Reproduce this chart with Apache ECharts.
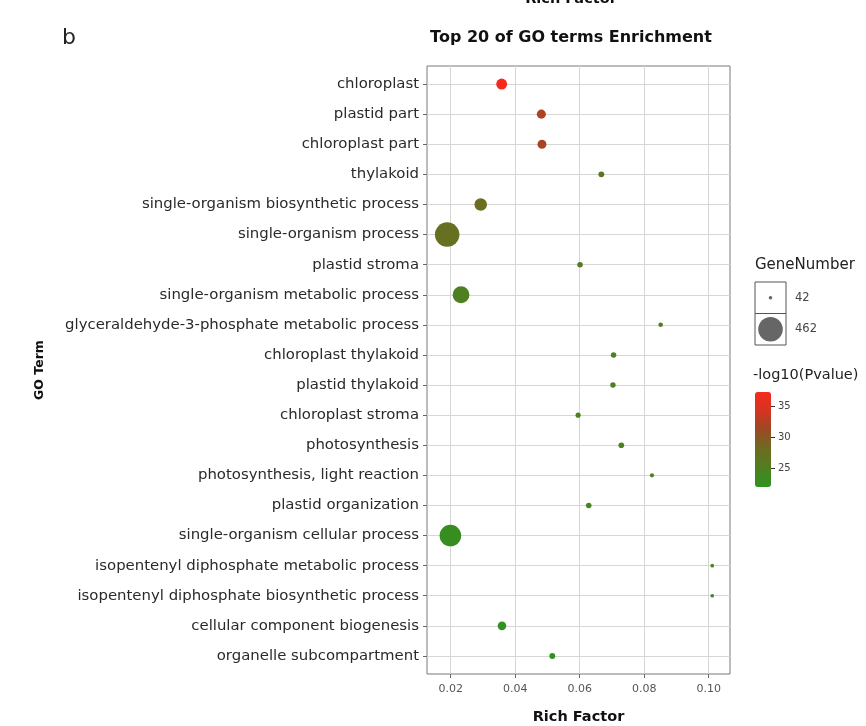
<!DOCTYPE html>
<html>
<head>
<meta charset="utf-8">
<script src="https://cdn.jsdelivr.net/npm/echarts@6/dist/echarts.min.js"></script>
<style>
  html, body { margin: 0; padding: 0; background: #ffffff; }
  #chart { width: 866px; height: 726px; }
</style>
</head>
<body>
<div id="chart"></div>
<script>
// GO enrichment: top 20 terms, plotted by rich factor
const terms = [
  'chloroplast',
  'plastid part',
  'chloroplast part',
  'thylakoid',
  'single-organism biosynthetic process',
  'single-organism process',
  'plastid stroma',
  'single-organism metabolic process',
  'glyceraldehyde-3-phosphate metabolic process',
  'chloroplast thylakoid',
  'plastid thylakoid',
  'chloroplast stroma',
  'photosynthesis',
  'photosynthesis, light reaction',
  'plastid organization',
  'single-organism cellular process',
  'isopentenyl diphosphate metabolic process',
  'isopentenyl diphosphate biosynthetic process',
  'cellular component biogenesis',
  'organelle subcompartment'
];
const richFactor = [
  0.0358, 0.0481, 0.0483, 0.0667, 0.0293, 0.0189, 0.0601, 0.0232, 0.0851, 0.0705,
  0.0703, 0.0595, 0.0729, 0.0824, 0.0628, 0.0199, 0.1011, 0.1011, 0.0359, 0.0515
];
const geneNumber = [
  118, 92, 90, 58, 145, 462, 55, 235, 48, 55,
  54, 52, 56, 46, 55, 366, 43, 43, 86, 58
];
const negLog10P = [
  37.3, 32.3, 32.0, 26.4, 28.0, 27.6, 26.0, 25.0, 25.2, 25.0,
  25.0, 24.6, 24.8, 24.6, 24.3, 23.0, 24.0, 24.0, 22.4, 22.05
];
const xTicks = [0.02, 0.04, 0.06, 0.08, 0.10];
const colorTicks = [25, 30, 35];
const sizeBreaks = [42, 462];

const FONT = 'DejaVu Sans';
const pMin = 22.05, pMax = 37.3;
const geneMin = 42, geneMax = 462;
const dotMin = 3.5, dotMax = 24.5;

// point diameter: area grows linearly with gene count
function dotSize(n) {
  const t = (n - geneMin) / (geneMax - geneMin);
  return Math.sqrt(dotMin * dotMin + t * (dotMax * dotMax - dotMin * dotMin));
}

const points = terms.map((t, i) => [richFactor[i], i, negLog10P[i], geneNumber[i], t]);
const rowIdx = terms.map((t, i) => i);

const chart = echarts.init(document.getElementById('chart'), null, { renderer: 'canvas' });

// size key box
const keyLeft = 755, keyTop = 282, keyW = 31, keyH = 31.5;
const sizeKey = [];
sizeBreaks.forEach((b, k) => {
  const cy = keyTop + keyH * k + keyH / 2;
  sizeKey.push({
    type: 'rect',
    shape: { x: keyLeft, y: keyTop + keyH * k, width: keyW, height: keyH },
    style: { fill: '#ffffff', stroke: '#555555', lineWidth: 1 }
  });
  sizeKey.push({
    type: 'circle',
    shape: { cx: keyLeft + keyW / 2, cy: cy, r: dotSize(b) / 2 },
    style: { fill: '#666666' }
  });
  sizeKey.push({
    type: 'text',
    style: {
      x: keyLeft + keyW + 9, y: cy, text: String(b),
      font: '11.5px "' + FONT + '"', fill: '#444444',
      textVerticalAlign: 'middle', textAlign: 'left'
    }
  });
});

chart.setOption({
  backgroundColor: '#ffffff',
  animation: false,
  textStyle: { fontFamily: FONT },
  title: {
    text: 'Top 20 of GO terms Enrichment',
    left: 566, top: 25, textAlign: 'center',
    textStyle: { fontFamily: FONT, fontWeight: 'bold', fontSize: 16, color: '#111111' }
  },
  graphic: [
    {
      type: 'text',
      style: {
        x: 571, y: 7, text: 'Rich Factor', textAlign: 'center', textVerticalAlign: 'bottom',
        font: 'bold 14.5px "' + FONT + '"', fill: '#111111'
      }
    },
    {
      type: 'text',
      style: {
        x: 62, y: 38, text: 'b', textAlign: 'left', textVerticalAlign: 'middle',
        font: '22px "' + FONT + '"', fill: '#222222'
      }
    },
    {
      type: 'text',
      style: {
        x: 755, y: 265, text: 'GeneNumber', textAlign: 'left', textVerticalAlign: 'middle',
        font: '15px "' + FONT + '"', fill: '#222222'
      }
    },
    {
      type: 'text',
      style: {
        x: 753, y: 375, text: '-log10(Pvalue)', textAlign: 'left', textVerticalAlign: 'middle',
        font: '14.5px "' + FONT + '"', fill: '#222222'
      }
    }
  ].concat(sizeKey),
  grid: [
    {
      left: 427, top: 66, width: 303, height: 608,
      show: true, borderColor: '#7a7a7a', borderWidth: 1, backgroundColor: '#ffffff',
      containLabel: false, outerBoundsMode: 'none'
    },
    { left: 755, top: 392, width: 16, height: 95, show: false, outerBoundsMode: 'none' }
  ],
  xAxis: [
    {
      gridIndex: 0, type: 'value', min: 0.01265, max: 0.1066, splitNumber: 5,
      name: 'Rich Factor', nameLocation: 'middle', nameGap: 36,
      nameTextStyle: { fontFamily: FONT, fontWeight: 'bold', fontSize: 14.5, color: '#111111' },
      axisLine: { show: false, onZero: false },
      axisTick: { show: true, length: 4, customValues: xTicks, lineStyle: { color: '#666666' } },
      axisLabel: {
        customValues: xTicks, margin: 10, fontSize: 11, color: '#555555', fontFamily: FONT,
        formatter: (v) => v.toFixed(2)
      },
      splitLine: { show: true, lineStyle: { color: '#d6d6d6', width: 1 } }
    },
    { gridIndex: 1, type: 'value', show: false }
  ],
  yAxis: [
    {
      gridIndex: 0, type: 'value', inverse: true, min: -0.6, max: 19.6,
      minInterval: 1, maxInterval: 1, splitNumber: 20,
      name: 'GO Term', nameLocation: 'middle', nameRotate: 90, nameGap: 381,
      nameTextStyle: { fontFamily: FONT, fontWeight: 'bold', fontSize: 12.5, color: '#111111' },
      axisLine: { show: false, onZero: false },
      axisTick: { show: true, length: 4, customValues: rowIdx, lineStyle: { color: '#666666' } },
      axisLabel: {
        customValues: rowIdx, margin: 8, fontSize: 14.9, color: '#2a2a2a', fontFamily: FONT,
        formatter: (v) => (Number.isInteger(v) && terms[v] !== undefined ? terms[v] : '')
      },
      splitLine: { show: true, lineStyle: { color: '#d6d6d6', width: 1 } }
    },
    {
      gridIndex: 1, type: 'value', position: 'right', min: pMin, max: pMax,
      axisLine: { show: false, onZero: false },
      axisTick: { show: true, length: 4, inside: false, customValues: colorTicks, lineStyle: { color: '#333333' } },
      axisLabel: { customValues: colorTicks, margin: 7, fontSize: 10, color: '#444444', fontFamily: FONT },
      splitLine: { show: false }
    }
  ],
  visualMap: {
    type: 'continuous',
    seriesIndex: 0,
    dimension: 2,
    min: pMin, max: pMax,
    left: 755, top: 392,
    itemWidth: 16, itemHeight: 95,
    padding: 0,
    calculable: false,
    realtime: false,
    text: null,
    showLabel: false,
    inRange: { color: ['#2e9420', '#4f7e20', '#6c6c20', '#9a4a24', '#d43422', '#f52a1c'] }
  },
  series: [
    {
      type: 'scatter',
      xAxisIndex: 0, yAxisIndex: 0,
      data: points,
      symbol: 'circle',
      symbolSize: (val) => dotSize(val[3]),
      itemStyle: { opacity: 1 }
    }
  ]
});
</script>
</body>
</html>
